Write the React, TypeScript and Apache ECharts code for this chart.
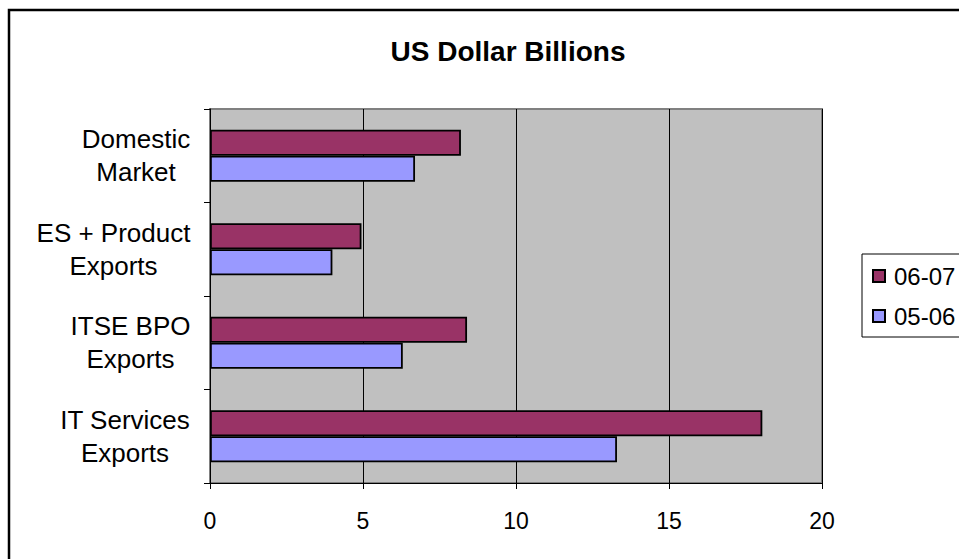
import React, { useEffect, useRef } from "react";
import * as echarts from "echarts";

const categories = [
  "IT Services\nExports",
  "ITSE BPO\nExports",
  "ES + Product\nExports",
  "Domestic\nMarket",
];
const seriesNames = ["06-07", "05-06"];
const values0607 = [18.05, 8.4, 4.95, 8.2];
const values0506 = [13.3, 6.3, 4.0, 6.7];
const xTicks = { min: 0, max: 20, interval: 5 };
const titleText = "US Dollar Billions";

const FONT = "'Liberation Sans', Arial, sans-serif";
const CAT_FONT_SIZE = 26;

function measure(text: string, size: number): number {
  const c = document.createElement("canvas").getContext("2d");
  if (!c) return text.length * size * 0.55;
  c.font = `${size}px 'Liberation Sans', Arial, sans-serif`;
  return c.measureText(text).width;
}

export default function App() {
  const ref = useRef<HTMLDivElement>(null);
  useEffect(() => {
    if (!ref.current) return;
    const chart = echarts.init(ref.current, null, { renderer: "svg" });
    const rich: Record<string, any> = {};
    categories.forEach((cat, i) => {
      const w = Math.max(...cat.split("\n").map((l) => measure(l, CAT_FONT_SIZE)));
      rich["c" + i] = {
        width: Math.ceil(w) + 1,
        align: "center",
        fontFamily: FONT,
        fontSize: CAT_FONT_SIZE,
        lineHeight: 33,
        color: "#000",
      };
    });
    chart.setOption({
      animation: false,
      backgroundColor: "#ffffff",
      textStyle: { fontFamily: FONT, color: "#000" },
      graphic: [
        {
          type: "rect",
          shape: { x: 9, y: 10, width: 980, height: 600 },
          style: { fill: "none", stroke: "#000", lineWidth: 2.5 },
          z: 100,
        },
        {
          type: "text",
          x: 508,
          y: 51,
          style: {
            text: titleText,
            fontFamily: FONT,
            fontSize: 28,
            fontWeight: "bold",
            fill: "#000",
            align: "center",
            verticalAlign: "middle",
          },
        },
      ],
      legend: {
        data: [seriesNames[0], seriesNames[1]],
        orient: "vertical",
        left: 862,
        top: 254,
        padding: [10, 14, 9, 10],
        itemWidth: 12,
        itemHeight: 12,
        itemGap: 16,
        borderColor: "#000",
        borderWidth: 1,
        icon: "rect",
        textStyle: { fontFamily: FONT, fontSize: 24, color: "#000", padding: [0, 0, 0, 4] },
      },
      grid: {
        left: 210,
        right: 137,
        top: 109,
        bottom: 76,
        show: true,
        backgroundColor: "#c0c0c0",
        borderColor: "#808080",
        borderWidth: 2,
        containLabel: false,
      },
      xAxis: {
        type: "value",
        min: xTicks.min,
        max: xTicks.max,
        interval: xTicks.interval,
        axisLine: { show: true, lineStyle: { color: "#000", width: 1 } },
        axisTick: { show: true, length: 6, lineStyle: { color: "#000" } },
        splitLine: { show: true, lineStyle: { color: "#000", width: 1 } },
        axisLabel: {
          fontFamily: FONT,
          fontSize: 23,
          color: "#000",
          margin: 26,
          showMaxLabel: true,
          showMinLabel: true,
        },
      },
      yAxis: {
        type: "category",
        data: categories,
        axisLine: { show: true, lineStyle: { color: "#000", width: 1 } },
        axisTick: { show: true, length: 6, lineStyle: { color: "#000" } },
        axisLabel: {
          fontFamily: FONT,
          fontSize: CAT_FONT_SIZE,
          lineHeight: 33,
          color: "#000",
          margin: 19,
          align: "right",
          formatter: (value: string, idx: number) =>
            value
              .split("\n")
              .map((l) => `{c${idx}|${l}}`)
              .join("\n"),
          rich,
        },
      },
      series: [
        {
          name: seriesNames[0],
          type: "bar",
          data: values0607,
          barWidth: 26,
          barGap: "0%",
          itemStyle: { color: "#993366", borderColor: "#000", borderWidth: 1.8 },
        },
        {
          name: seriesNames[1],
          type: "bar",
          data: values0506,
          barWidth: 26,
          barGap: "0%",
          itemStyle: { color: "#9999ff", borderColor: "#000", borderWidth: 1.8 },
        },
      ],
    });
    return () => chart.dispose();
  }, []);
  return (
    <div
      ref={ref}
      style={{ position: "fixed", left: 0, top: 0, width: 959, height: 559 }}
    />
  );
}
